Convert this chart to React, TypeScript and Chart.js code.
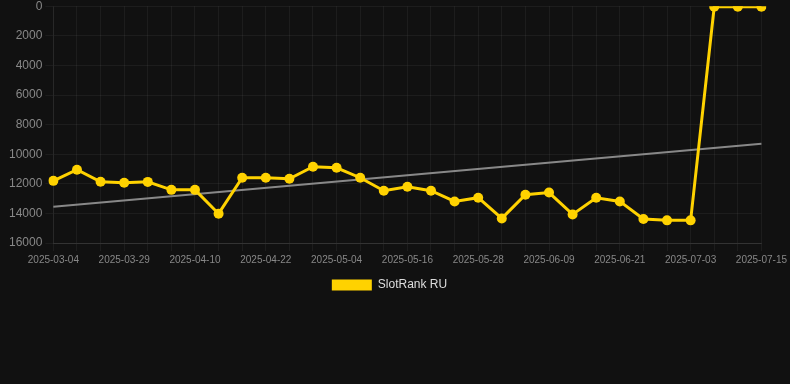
import React, { useEffect, useRef } from "react";
import { Chart, registerables } from "chart.js";

Chart.register(...registerables);

const dates = [
  "2025-03-04", "2025-03-21", "2025-03-25", "2025-03-29", "2025-04-02", "2025-04-06",
  "2025-04-10", "2025-04-14", "2025-04-18", "2025-04-22", "2025-04-26", "2025-04-30",
  "2025-05-04", "2025-05-08", "2025-05-12", "2025-05-16", "2025-05-20", "2025-05-24",
  "2025-05-28", "2025-06-01", "2025-06-05", "2025-06-09", "2025-06-13", "2025-06-17",
  "2025-06-21", "2025-06-25", "2025-06-29", "2025-07-03", "2025-07-07", "2025-07-11",
  "2025-07-15",
];

const rankValues = [
  11800, 11050, 11860, 11930, 11870, 12410, 12410, 14020, 11590, 11590, 11660,
  10850, 10920, 11590, 12470, 12200, 12470, 13190, 12940, 14340, 12740, 12590,
  14070, 12940, 13190, 14380, 14470, 14470, 40, 40, 40,
];

const trendStart = 13550;
const trendEnd = 9300;

const yTicks = [0, 2000, 4000, 6000, 8000, 10000, 12000, 14000, 16000];

const FONT = "Arial, 'Liberation Sans', sans-serif";

export default function App() {
  const ref = useRef<HTMLCanvasElement | null>(null);

  useEffect(() => {
    document.body.style.margin = "0";
    document.body.style.background = "#111111";
    const n = dates.length;
    const trend = dates.map((_, i) =>
      i === 0 ? trendStart : i === n - 1 ? trendEnd : null
    );
    const chart = new Chart(ref.current as HTMLCanvasElement, {
      type: "line",
      data: {
        labels: dates,
        datasets: [
          {
            label: "SlotRank RU",
            data: rankValues,
            borderColor: "#FFD200",
            backgroundColor: "#FFD200",
            borderWidth: 3,
            pointRadius: 5,
            pointHoverRadius: 5,
            pointBackgroundColor: "#FFD200",
            pointBorderWidth: 0,
            tension: 0,
          },
          {
            label: "trend",
            data: trend,
            borderColor: "rgba(150,150,150,0.9)",
            borderWidth: 2,
            pointRadius: 0,
            spanGaps: true,
            fill: false,
          },
        ],
      },
      options: {
        animation: false,
        responsive: true,
        maintainAspectRatio: false,
        layout: { padding: { left: 6, right: 17, top: 0, bottom: 0 } },
        plugins: {
          legend: {
            position: "bottom",
            labels: {
              color: "#dddddd",
              font: { size: 12, family: FONT },
              boxWidth: 40,
              boxHeight: 11,
              generateLabels: (c) =>
                Chart.defaults.plugins.legend.labels
                  .generateLabels(c)
                  .filter((it) => it.text !== "trend")
                  .map((it) => ({ ...it, lineWidth: 0 })),
            },
          },
          tooltip: { enabled: false },
        },
        scales: {
          x: {
            grid: { color: "rgba(255,255,255,0.05)", tickLength: 8 },
            border: { color: "rgba(255,255,255,0.1)" },
            ticks: {
              color: "#888888",
              font: { size: 10, family: FONT },
              autoSkip: false,
              maxRotation: 0,
              minRotation: 0,
              callback: (_v, i) => (i % 3 === 0 ? dates[i] : ""),
            },
          },
          y: {
            reverse: true,
            min: 0,
            max: 16000,
            afterBuildTicks: (axis) => {
              axis.ticks = yTicks.map((v) => ({ value: v }));
            },
            grid: { color: "rgba(255,255,255,0.05)", tickLength: 8 },
            border: { color: "rgba(255,255,255,0.05)" },
            ticks: {
              color: "#888888",
              font: { size: 12, family: FONT },
              callback: (v) => String(v),
            },
          },
        },
      },
    });
    return () => chart.destroy();
  }, []);

  return (
    <div style={{ width: 790, height: 305, position: "relative", marginTop: -4 }}>
      <canvas ref={ref} />
    </div>
  );
}
